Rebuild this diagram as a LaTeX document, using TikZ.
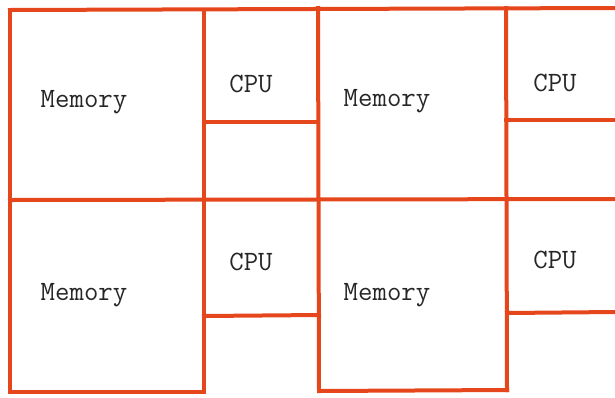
\documentclass[tikz,border=0pt]{standalone}
\begin{document}
\begin{tikzpicture}[x=1pt,y=-1pt,
  grid/.style={draw=gridred,line width=4pt,line cap=rect},
  label/.style={font=\ttfamily\fontsize{28}{28}\selectfont,text=black!85,inner sep=0pt}]
\definecolor{gridred}{HTML}{E5461C}
\useasboundingbox (0,0) rectangle (615,397);
% outer frame and row divider
\path[grid] (10,10) -- (615,8);
\path[grid] (10,200) -- (615,199);
\path[grid] (10,10) -- (10,392) -- (204,392);
\path[grid] (204,10) -- (204,392);
\path[grid] (318,8) -- (319,391) -- (507,390);
\path[grid] (506,8) -- (507,390);
% CPU compartments
\path[grid] (204,122) -- (318,122);
\path[grid] (506,120) -- (615,120);
\path[grid] (204,316) -- (319,315);
\path[grid] (507,313) -- (615,312);
% labels
\node[label] (m1) at (84,102) {Memory};
\node[label] (c1) at (251,84) {CPU};
\node[label] (m2) at (387,101) {Memory};
\node[label] (c2) at (555,83) {CPU};
\node[label] (m3) at (84,295) {Memory};
\node[label] (c3) at (251,262) {CPU};
\node[label] (m4) at (387,295) {Memory};
\node[label] (c4) at (555,260) {CPU};
\end{tikzpicture}
\end{document}
